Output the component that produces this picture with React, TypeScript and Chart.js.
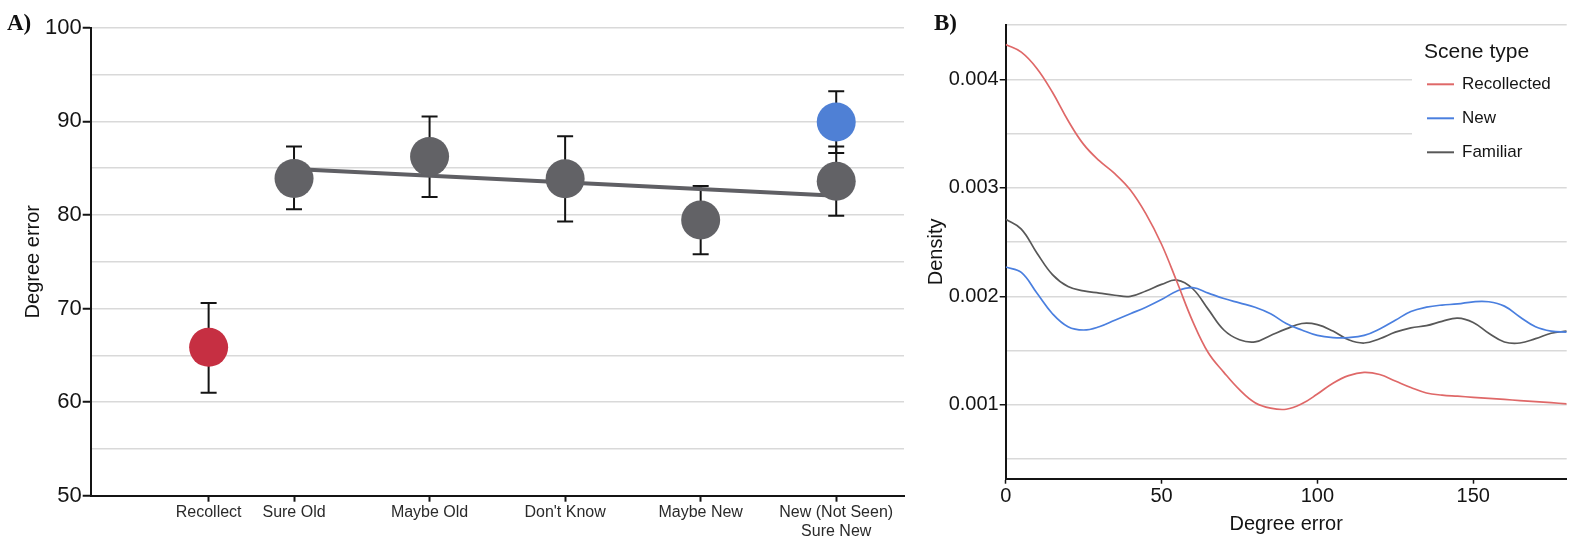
import React, { useEffect, useRef } from "react";
import { Chart, registerables } from "chart.js";

Chart.register(...registerables);

const FONT = "'Liberation Sans', Arial, Helvetica, sans-serif";

// ---------- Panel A data ----------
const responseLabels: (string | string[])[] = [
  "Recollect",
  "Sure Old",
  "Maybe Old",
  "Don't Know",
  "Maybe New",
  ["New (Not Seen)", "Sure New"],
];
const responsePositions = [0.37, 1, 2, 3, 4, 5];

const recollectX = [0.37];
const recollectMean = [65.85];
const recollectLow = [61.0];
const recollectHigh = [70.6];

const familiarX = [1, 2, 3, 4, 5];
const familiarMean = [83.9, 86.25, 83.86, 79.46, 83.6];
const familiarLow = [80.6, 81.9, 79.3, 75.8, 79.9];
const familiarHigh = [87.3, 90.5, 88.4, 83.1, 87.3];

const newX = [5];
const newMean = [89.93];
const newLow = [86.6];
const newHigh = [93.2];

const trendX = [1, 5];
const trendY = [84.9, 82.05];

const errorTicks = [50, 55, 60, 65, 70, 75, 80, 85, 90, 95, 100];

// ---------- Panel B data ----------
const degreeX = [
  0, 5, 10, 15, 20, 25, 30, 35, 40, 45, 50, 55, 60, 65, 70, 75, 80, 85, 90,
  95, 100, 105, 110, 115, 120, 125, 130, 135, 140, 145, 150, 155, 160, 165,
  170, 175, 180,
];
const recollectedDensity = [
  0.00432, 0.00425, 0.0041, 0.00388, 0.00362, 0.0034, 0.00325, 0.00313,
  0.00298, 0.00276, 0.00248, 0.00213, 0.00177, 0.00148, 0.0013, 0.00114,
  0.00102, 0.00097, 0.00096, 0.00101, 0.0011, 0.0012, 0.00127, 0.0013,
  0.00128, 0.00122, 0.00116, 0.00111, 0.00109, 0.00108, 0.00107, 0.00106,
  0.00105, 0.00104, 0.00103, 0.00102, 0.00101,
];
const newDensity = [
  0.00227, 0.00222, 0.00203, 0.00184, 0.00172, 0.00169, 0.00172, 0.00178,
  0.00184, 0.0019, 0.00197, 0.00205, 0.00208, 0.00203, 0.00198, 0.00194,
  0.0019, 0.00184, 0.00175, 0.00169, 0.00164, 0.00162, 0.00162, 0.00164,
  0.0017, 0.00178, 0.00186, 0.0019, 0.00192, 0.00193, 0.00195, 0.00195,
  0.00191, 0.00181, 0.00172, 0.00168, 0.00167,
];
const familiarDensity = [
  0.00271, 0.00262, 0.0024, 0.0022, 0.00209, 0.00205, 0.00203, 0.00201,
  0.002, 0.00205, 0.00211, 0.00215, 0.00207, 0.00188, 0.00169, 0.0016,
  0.00158, 0.00164, 0.0017, 0.00175, 0.00174, 0.00168, 0.0016, 0.00157,
  0.00161, 0.00167, 0.00171, 0.00173, 0.00177, 0.0018, 0.00176, 0.00166,
  0.00158, 0.00157, 0.00161, 0.00166, 0.00168,
];
const densityTicks = [
  0.0005, 0.001, 0.0015, 0.002, 0.0025, 0.003, 0.0035, 0.004, 0.0045,
];
const degreeTicks = [0, 50, 100, 150];
const seriesNames = ["Recollected", "New", "Familiar"];

const zip = (xs: number[], ys: number[]) => xs.map((x, i) => ({ x, y: ys[i] }));

const errorBarPlugin = {
  id: "errorBars",
  beforeDatasetsDraw(chart: any) {
    const { ctx } = chart;
    const xs = chart.scales.x;
    const ys = chart.scales.y;
    ctx.save();
    ctx.strokeStyle = "#141414";
    ctx.lineWidth = 2;
    chart.data.datasets.forEach((ds: any) => {
      if (!ds.errLow) return;
      ds.data.forEach((p: any, i: number) => {
        const px = xs.getPixelForValue(p.x);
        const yl = ys.getPixelForValue(ds.errLow[i]);
        const yh = ys.getPixelForValue(ds.errHigh[i]);
        ctx.beginPath();
        ctx.moveTo(px, yl);
        ctx.lineTo(px, yh);
        ctx.moveTo(px - 8, yl);
        ctx.lineTo(px + 8, yl);
        ctx.moveTo(px - 8, yh);
        ctx.lineTo(px + 8, yh);
        ctx.stroke();
      });
    });
    ctx.restore();
  },
};

const legendPlugin = {
  id: "sceneLegend",
  afterDraw(chart: any) {
    const { ctx } = chart;
    ctx.save();
    ctx.fillStyle = "#ffffff";
    ctx.fillRect(502, 30, 162, 145);
    ctx.textBaseline = "middle";
    ctx.textAlign = "left";
    ctx.fillStyle = "#151515";
    ctx.font = `21px ${FONT}`;
    ctx.fillText("Scene type", 514, 52);
    chart.data.datasets.forEach((ds: any, i: number) => {
      const yy = 84.3 + i * 34;
      ctx.strokeStyle = ds.borderColor;
      ctx.lineWidth = 2;
      ctx.beginPath();
      ctx.moveTo(517, yy);
      ctx.lineTo(544, yy);
      ctx.stroke();
      ctx.fillStyle = "#151515";
      ctx.font = `17px ${FONT}`;
      ctx.fillText(ds.label, 552, yy);
    });
    ctx.restore();
  },
};

const zeroPadX = (s: any, h: number) => {
  s.height = h;
  s.paddingLeft = 0;
  s.paddingRight = 0;
};
const zeroPadY = (s: any, w: number) => {
  s.width = w;
  s.paddingTop = 0;
  s.paddingBottom = 0;
};

function PanelA() {
  const ref = useRef<HTMLCanvasElement | null>(null);
  useEffect(() => {
    if (!ref.current) return;
    const chart = new Chart(ref.current, {
      type: "scatter",
      data: {
        datasets: [
          {
            label: "Recollect",
            data: zip(recollectX, recollectMean),
            backgroundColor: "#c62f42",
            pointRadius: 19.5,
            pointBorderWidth: 0,
            order: 1,
            errLow: recollectLow,
            errHigh: recollectHigh,
          } as any,
          {
            label: "Familiar",
            data: zip(familiarX, familiarMean),
            backgroundColor: "#626266",
            pointRadius: 19.5,
            pointBorderWidth: 0,
            order: 1,
            errLow: familiarLow,
            errHigh: familiarHigh,
          } as any,
          {
            label: "New",
            data: zip(newX, newMean),
            backgroundColor: "#4f80d5",
            pointRadius: 19.5,
            pointBorderWidth: 0,
            order: 1,
            errLow: newLow,
            errHigh: newHigh,
          } as any,
          {
            type: "line",
            label: "Trend",
            data: zip(trendX, trendY),
            borderColor: "#5f5f64",
            borderWidth: 4,
            pointRadius: 0,
            showLine: true,
            fill: false,
            order: 3,
          } as any,
        ],
      },
      options: {
        animation: false,
        responsive: false,
        events: [],
        layout: {
          autoPadding: false,
          padding: { top: 27.7, right: 6, left: 0, bottom: 0 },
        },
        plugins: { legend: { display: false }, tooltip: { enabled: false } },
        scales: {
          x: {
            type: "linear",
            min: -0.5,
            max: 5.5,
            afterBuildTicks: (s: any) => {
              s.ticks = responsePositions.map((v) => ({ value: v }));
            },
            afterFit: (s: any) => zeroPadX(s, 42.3),
            ticks: {
              callback: (_v: any, i: number) => responseLabels[i],
              font: { size: 16, family: FONT },
              color: "#2a2a2a",
              padding: 1,
              autoSkip: false,
              maxRotation: 0,
              minRotation: 0,
            },
            grid: {
              drawOnChartArea: false,
              drawTicks: true,
              tickLength: 6,
              tickColor: "#141414",
              tickWidth: 2,
            },
            border: { display: true, color: "#141414", width: 2 },
          },
          y: {
            type: "linear",
            min: 50,
            max: 100,
            afterBuildTicks: (s: any) => {
              s.ticks = errorTicks.map((v) => ({ value: v }));
            },
            afterFit: (s: any) => zeroPadY(s, 90.7),
            ticks: {
              callback: (v: any) => (v % 10 === 0 ? String(v) : ""),
              font: { size: 22, family: FONT },
              color: "#141414",
              padding: 1,
            },
            grid: {
              color: "#d9d9d9",
              lineWidth: 1.5,
              tickLength: 8,
              tickWidth: 2,
              tickColor: (c: any) =>
                c.tick && c.tick.value % 10 === 0 ? "#141414" : "rgba(0,0,0,0)",
            },
            border: { display: true, color: "#141414", width: 2 },
            title: {
              display: true,
              text: "Degree error",
              font: { size: 20, family: FONT },
              color: "#141414",
              padding: { top: 21, bottom: 0 },
            },
          },
        },
      },
      plugins: [errorBarPlugin],
    } as any);
    return () => chart.destroy();
  }, []);
  return (
    <canvas
      ref={ref}
      width={910}
      height={538}
      style={{ position: "absolute", left: 0, top: 0, width: 910, height: 538 }}
    />
  );
}

function PanelB() {
  const ref = useRef<HTMLCanvasElement | null>(null);
  useEffect(() => {
    if (!ref.current) return;
    const series = [recollectedDensity, newDensity, familiarDensity];
    const colors = ["#df6868", "#4a7fdf", "#585858"];
    const chart = new Chart(ref.current, {
      type: "line",
      data: {
        datasets: series.map((s, i) => ({
          label: seriesNames[i],
          data: zip(degreeX, s),
          borderColor: colors[i],
          borderWidth: 1.7,
          pointRadius: 0,
          tension: 0.4,
          fill: false,
        })),
      },
      options: {
        animation: false,
        responsive: false,
        events: [],
        layout: {
          autoPadding: false,
          padding: { top: 25, right: 7.3, left: 0, bottom: 0 },
        },
        plugins: { legend: { display: false }, tooltip: { enabled: false } },
        scales: {
          x: {
            type: "linear",
            min: 0,
            max: 180,
            afterBuildTicks: (s: any) => {
              s.ticks = degreeTicks.map((v) => ({ value: v }));
            },
            afterFit: (s: any) => zeroPadX(s, 59.3),
            ticks: {
              callback: (v: any) => String(v),
              font: { size: 20, family: FONT },
              color: "#141414",
              padding: 1,
              maxRotation: 0,
              minRotation: 0,
            },
            grid: {
              drawOnChartArea: false,
              drawTicks: true,
              tickLength: 5,
              tickColor: "#141414",
              tickWidth: 1.5,
            },
            border: { display: true, color: "#141414", width: 2 },
            title: {
              display: true,
              text: "Degree error",
              font: { size: 20, family: FONT },
              color: "#141414",
              padding: { top: 0, bottom: 2 },
            },
          },
          y: {
            type: "linear",
            min: 0.00032,
            max: 0.0045,
            afterBuildTicks: (s: any) => {
              s.ticks = densityTicks.map((v) => ({ value: v }));
            },
            afterFit: (s: any) => zeroPadY(s, 95.7),
            ticks: {
              callback: (v: any) =>
                Math.round(v * 10000) % 10 === 0 ? Number(v).toFixed(3) : "",
              font: { size: 20, family: FONT },
              color: "#141414",
              padding: 1,
            },
            grid: {
              color: "#d9d9d9",
              lineWidth: 1.5,
              tickLength: 6,
              tickWidth: 1.5,
              tickColor: (c: any) =>
                c.tick && Math.round(c.tick.value * 10000) % 10 === 0
                  ? "#141414"
                  : "rgba(0,0,0,0)",
            },
            border: { display: true, color: "#141414", width: 2 },
            title: {
              display: true,
              text: "Density",
              font: { size: 20, family: FONT },
              color: "#141414",
              padding: { top: 14.7, bottom: 0 },
            },
          },
        },
      },
      plugins: [legendPlugin],
    } as any);
    return () => chart.destroy();
  }, []);
  return (
    <canvas
      ref={ref}
      width={664}
      height={538}
      style={{ position: "absolute", left: 910, top: 0, width: 664, height: 538 }}
    />
  );
}

const panelLabelStyle: React.CSSProperties = {
  position: "absolute",
  fontFamily: "'Liberation Serif', 'Times New Roman', serif",
  fontWeight: "bold",
  fontSize: 23,
  lineHeight: "23px",
  color: "#111",
};

export default function App() {
  return (
    <div
      style={{
        position: "absolute",
        left: 0,
        top: 0,
        width: 1574,
        height: 538,
        background: "#ffffff",
        overflow: "hidden",
      }}
    >
      <PanelA />
      <PanelB />
      <div style={{ ...panelLabelStyle, left: 7, top: 11 }}>A)</div>
      <div style={{ ...panelLabelStyle, left: 934, top: 11 }}>B)</div>
    </div>
  );
}
